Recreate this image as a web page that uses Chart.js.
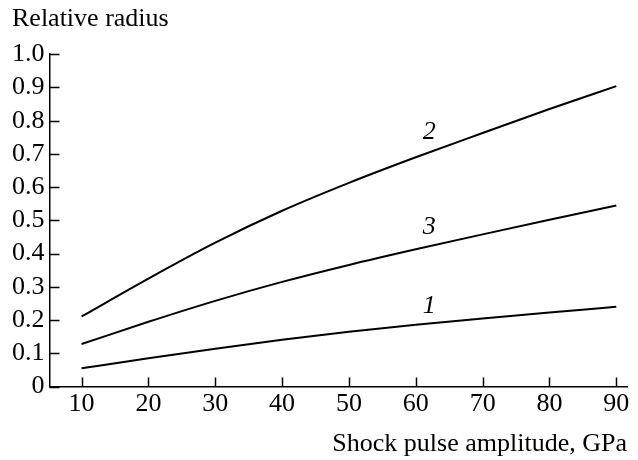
<!DOCTYPE html>
<html>
<head>
<meta charset="utf-8">
<script src="https://cdn.jsdelivr.net/npm/chart.js@4"></script>
<style>
    html, body { margin: 0; padding: 0; background: #fff; }
    #wrap { width: 638px; height: 460px; }
</style>
</head>
<body>
<div id="wrap"><canvas id="radiusChart"></canvas></div>
<script>
// shock pulse amplitude, GPa
const amplitudes = [10, 20, 30, 40, 50, 60, 70, 80, 90];

// relative radius for each curve
const curve1 = [0.055, 0.085, 0.114, 0.141, 0.165, 0.186, 0.205, 0.223, 0.240];
const curve2 = [0.211, 0.325, 0.433, 0.529, 0.613, 0.690, 0.763, 0.835, 0.904];
const curve3 = [0.128, 0.195, 0.258, 0.315, 0.366, 0.413, 0.458, 0.502, 0.545];

// tick labels
const xTicks = [10, 20, 30, 40, 50, 60, 70, 80, 90];
const yTicks = [0, 0.1, 0.2, 0.3, 0.4, 0.5, 0.6, 0.7, 0.8, 0.9, 1.0];

// curve numbers written next to the lines
const curveNames = ['1', '2', '3'];
const curveNameX = [62, 62, 62];
const curveNameY = [0.243, 0.765, 0.48];

const FONT = '"Liberation Serif", "Times New Roman", serif';
const INK = '#000';

// inward tick marks and the italic curve numbers
const decorations = {
    id: 'decorations',
    afterDraw(chart) {
        const c = chart.ctx;
        const x = chart.scales.x;
        const y = chart.scales.y;
        const area = chart.chartArea;

        c.save();
        c.strokeStyle = INK;
        c.lineWidth = 1.5;
        c.beginPath();
        xTicks.forEach(v => {
            const px = Math.round(x.getPixelForValue(v)) + 0.5;
            c.moveTo(px, area.bottom);
            c.lineTo(px, area.bottom - 9);
        });
        yTicks.forEach(v => {
            const py = Math.round(y.getPixelForValue(v)) + 0.5;
            c.moveTo(area.left, py);
            c.lineTo(area.left + 10, py);
        });
        c.stroke();

        c.fillStyle = INK;
        c.font = 'italic 26px ' + FONT;
        c.textAlign = 'center';
        c.textBaseline = 'middle';
        curveNames.forEach((name, i) => {
            c.fillText(name, x.getPixelForValue(curveNameX[i]), y.getPixelForValue(curveNameY[i]));
        });
        c.restore();
    }
};

function lineSet(label, values) {
    return {
        label: label,
        data: amplitudes.map((a, i) => ({ x: a, y: values[i] })),
        borderColor: INK,
        borderWidth: 2,
        pointRadius: 0,
        cubicInterpolationMode: 'monotone',
        fill: false
    };
}

const ctx = document.getElementById('radiusChart');

const radiusConfig = {
    type: 'line',
    data: {
        datasets: [
            lineSet('1', curve1),
            lineSet('2', curve2),
            lineSet('3', curve3)
        ]
    },
    options: {
        responsive: true,
        maintainAspectRatio: false,
        animation: false,
        layout: {
            padding: { left: 12, right: 11, top: 4, bottom: 0 }
        },
        plugins: {
            legend: { display: false },
            tooltip: { enabled: false },
            title: {
                display: true,
                text: 'Relative radius',
                align: 'start',
                color: INK,
                font: { family: FONT, size: 26, weight: 'normal' },
                padding: { top: 0, bottom: 19 }
            }
        },
        scales: {
            x: {
                type: 'linear',
                min: 5.2,
                max: 91.6,
                afterBuildTicks: axis => {
                    axis.ticks = xTicks.map(v => ({ value: v }));
                },
                grid: { display: false, drawTicks: false },
                border: { display: true, color: INK, width: 1.5 },
                ticks: {
                    color: INK,
                    padding: 2,
                    maxRotation: 0,
                    autoSkip: false,
                    font: { family: FONT, size: 26 }
                },
                title: {
                    display: true,
                    text: 'Shock pulse amplitude, GPa',
                    align: 'end',
                    color: INK,
                    font: { family: FONT, size: 26 },
                    padding: { top: 7, bottom: 0 }
                }
            },
            y: {
                min: 0,
                max: 1.0,
                afterBuildTicks: axis => {
                    axis.ticks = yTicks.map(v => ({ value: v }));
                },
                // the axis box comes out a little wide, pull it in
                afterFit: axis => {
                    axis.width = axis.width - 5;
                },
                grid: { display: false, drawTicks: false },
                border: { display: true, color: INK, width: 1.5 },
                ticks: {
                    color: INK,
                    padding: 5,
                    autoSkip: false,
                    font: { family: FONT, size: 26 },
                    callback: v => v === 0 ? '0' : v.toFixed(1)
                }
            }
        }
    },
    plugins: [decorations]
};

const radiusChart = new Chart(ctx, radiusConfig);
</script>
</body>
</html>
